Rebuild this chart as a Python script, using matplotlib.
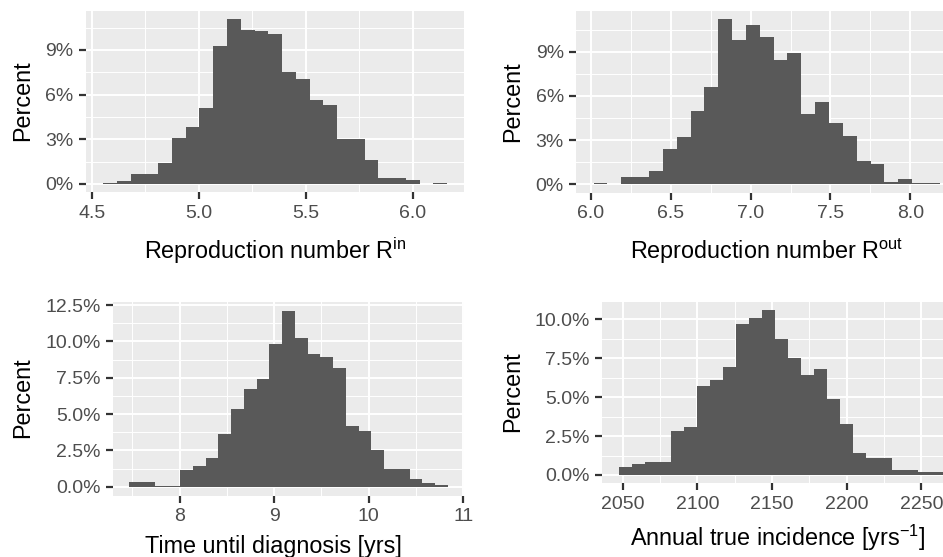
import numpy as np
import matplotlib
matplotlib.use("Agg")
import matplotlib.pyplot as plt
from matplotlib.ticker import MultipleLocator, FuncFormatter

plt.rcParams['font.family'] = ['Liberation Sans', 'DejaVu Sans']
plt.rcParams['mathtext.fontset'] = 'custom'
plt.rcParams['mathtext.rm'] = 'Liberation Sans'
plt.rcParams['mathtext.it'] = 'Liberation Sans:italic'

# histogram data: first bin edge, bin width and bar heights (percent)
rin_start, rin_width = 4.553, 0.06428
rin_pct = [0.07, 0.2, 0.67, 0.67, 1.41, 3.09, 3.83, 5.1, 9.27, 11.06,
           10.34, 10.28, 10.07, 7.52, 7.03, 5.64, 5.3, 3.02, 3.02, 1.61,
           0.4, 0.4, 0.27, 0.0, 0.07]

rout_start, rout_width = 6.017, 0.0867
rout_pct = [0.09, 0.0, 0.52, 0.52, 0.93, 2.42, 3.23, 4.97, 6.62, 11.21,
            9.79, 10.83, 9.99, 8.43, 8.93, 4.77, 5.61, 4.16, 3.28, 1.58,
            1.4, 0.16, 0.36, 0.09, 0.09]

diag_start, diag_width = 7.468, 0.1348
diag_pct = [0.32, 0.32, 0.07, 0.07, 1.14, 1.42, 1.97, 3.62, 5.33, 6.71,
            7.4, 9.8, 12.13, 10.21, 9.11, 8.9, 8.15, 4.17, 3.82, 2.52,
            1.21, 1.21, 0.53, 0.25, 0.11]

inc_start, inc_width = 2047.3, 8.71
inc_pct = [0.51, 0.71, 0.84, 0.84, 2.83, 3.08, 5.72, 6.1, 6.94, 9.7,
           10.08, 10.6, 8.74, 7.52, 6.42, 6.81, 4.88, 3.28, 1.41, 1.09,
           1.09, 0.32, 0.32, 0.19, 0.19]

W, H = 943, 557
fig = plt.figure(figsize=(W / 100, H / 100), dpi=100)

BG = '#EBEBEB'
BAR = '#595959'
TICK_TXT = '#4D4D4D'


def px_axes(left, top, right, bottom):
    return fig.add_axes([left / W, 1 - bottom / H, (right - left) / W, (bottom - top) / H])


def hist_panel(ax, start, width, pct, xmaj, xmin, ymaj, ymin, yfmt):
    pct = np.asarray(pct)
    lefts = start + width * np.arange(len(pct))
    ax.bar(lefts, pct, width=width, align='edge', color=BAR, linewidth=0, zorder=3)
    lo, hi = lefts[0], lefts[-1] + width
    pad = 0.05 * (hi - lo)
    ax.set_xlim(lo - pad, hi + pad)
    ax.set_ylim(-0.05 * pct.max(), 1.05 * pct.max())
    ax.set_facecolor(BG)
    for s in ax.spines.values():
        s.set_visible(False)
    ax.xaxis.set_major_locator(MultipleLocator(xmaj))
    ax.xaxis.set_minor_locator(MultipleLocator(xmin))
    ax.yaxis.set_major_locator(MultipleLocator(ymaj))
    ax.yaxis.set_minor_locator(MultipleLocator(ymin))
    ax.yaxis.set_major_formatter(FuncFormatter(lambda v, p: yfmt.format(v) + '%'))
    ax.grid(which='major', color='white', linewidth=1.4, zorder=0)
    ax.grid(which='minor', color='white', linewidth=0.7, zorder=0)
    ax.set_axisbelow(True)
    ax.tick_params(which='major', length=5, width=1.6, color='#333333',
                   labelsize=14, labelcolor=TICK_TXT, pad=4)
    ax.tick_params(which='minor', length=0)


ax1 = px_axes(86, 11, 464.3, 192.2)
hist_panel(ax1, rin_start, rin_width, rin_pct, 0.5, 0.25, 3, 1.5, '{:.0f}')
ax1.xaxis.set_major_formatter(FuncFormatter(lambda v, p: f'{v:.1f}'))

ax2 = px_axes(576.3, 11, 957.1, 192.6)
hist_panel(ax2, rout_start, rout_width, rout_pct, 0.5, 0.25, 3, 1.5, '{:.0f}')
ax2.xaxis.set_major_formatter(FuncFormatter(lambda v, p: f'{v:.1f}'))

ax3 = px_axes(113.3, 301.7, 463.8, 495.5)
hist_panel(ax3, diag_start, diag_width, diag_pct, 1, 0.5, 2.5, 1.25, '{:.1f}')
ax3.xaxis.set_major_formatter(FuncFormatter(lambda v, p: f'{v:.0f}'))

ax4 = px_axes(602.3, 301.8, 960, 483.2)
hist_panel(ax4, inc_start, inc_width, inc_pct, 50, 25, 2.5, 1.25, '{:.1f}')
ax4.xaxis.set_major_formatter(FuncFormatter(lambda v, p: f'{v:.0f}'))

TITLE = 16.8


def ftext(x, y, s, **kw):
    fig.text(x / W, 1 - y / H, s, fontsize=TITLE, color='black', **kw)


ftext(275, 259, r'Reproduction number R$^{\mathrm{in}}$', ha='center', va='baseline')
ftext(766, 259, r'Reproduction number R$^{\mathrm{out}}$', ha='center', va='baseline')
ftext(273, 553.5, 'Time until diagnosis [yrs]', ha='center', va='baseline')
ftext(778, 545.5, r'Annual true incidence [yrs$^{-1}$]', ha='center', va='baseline')

ftext(22.5, 101, 'Percent', ha='center', va='center', rotation=90)
ftext(512.5, 101.7, 'Percent', ha='center', va='center', rotation=90)
ftext(22.5, 397.5, 'Percent', ha='center', va='center', rotation=90)
ftext(512.5, 391.7, 'Percent', ha='center', va='center', rotation=90)

fig.savefig('out.png', dpi=100)
